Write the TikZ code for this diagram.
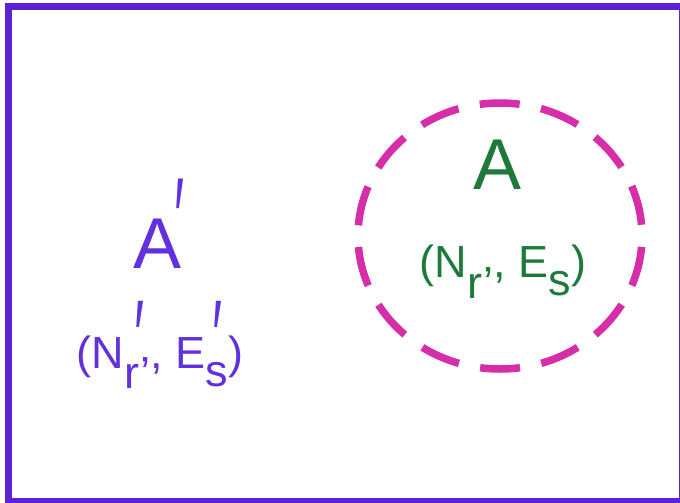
\documentclass[tikz,border=0pt]{standalone}
\usepackage{fontspec}
\setmainfont{Liberation Sans}
\definecolor{boxpurple}{RGB}{93,34,214}
\definecolor{txtpurple}{RGB}{98,48,220}
\definecolor{txtgreen}{RGB}{30,122,58}
\definecolor{ringmagenta}{RGB}{214,45,168}

\begin{document}
\begin{tikzpicture}[x=1pt, y=-1pt,
		bigletter/.style={inner sep=0pt, anchor=base, font=\fontsize{72}{72}\selectfont},
		pairtext/.style={inner sep=0pt, anchor=base, font=\fontsize{45}{45}\selectfont},
		primemark/.style={inner sep=0pt, anchor=base, text=txtpurple, font=\fontsize{90}{90}\selectfont}]
			\useasboundingbox (0,0) rectangle (680,503);
			% outer system box
			\draw[boxpurple, line width=7pt] (8.5, 6.5) rectangle (682, 501.5);
			% subsystem A
			\draw[ringmagenta, line width=7.5pt, dash pattern={on 40pt off 21.7pt}, dash phase=50.8pt] (500, 236) ellipse [x radius=142, y radius=133];
			\node[bigletter, text=txtgreen](A1) at (498, 189){A};
			\node[pairtext, text=txtgreen](A2) at (503, 277){(N\raisebox{-21pt}{r’}, E\raisebox{-18pt}{s})};
			% the rest A'
			\node[bigletter, text=txtpurple](B1) at (158, 268){A};
			\node[pairtext, text=txtpurple](B2) at (160, 368){(N\raisebox{-20pt}{r’}, E\raisebox{-18pt}{s})};
			\node[primemark](P1) at (179.5, 259){\scalebox{0.6}[1.3]{′}};
			\node[primemark](P2) at (139.5, 372){\scalebox{0.6}[1.15]{′}};
			\node[primemark](P3) at (217.5, 372){\scalebox{0.6}[1.15]{′}};
		\end{tikzpicture}
\end{document}
